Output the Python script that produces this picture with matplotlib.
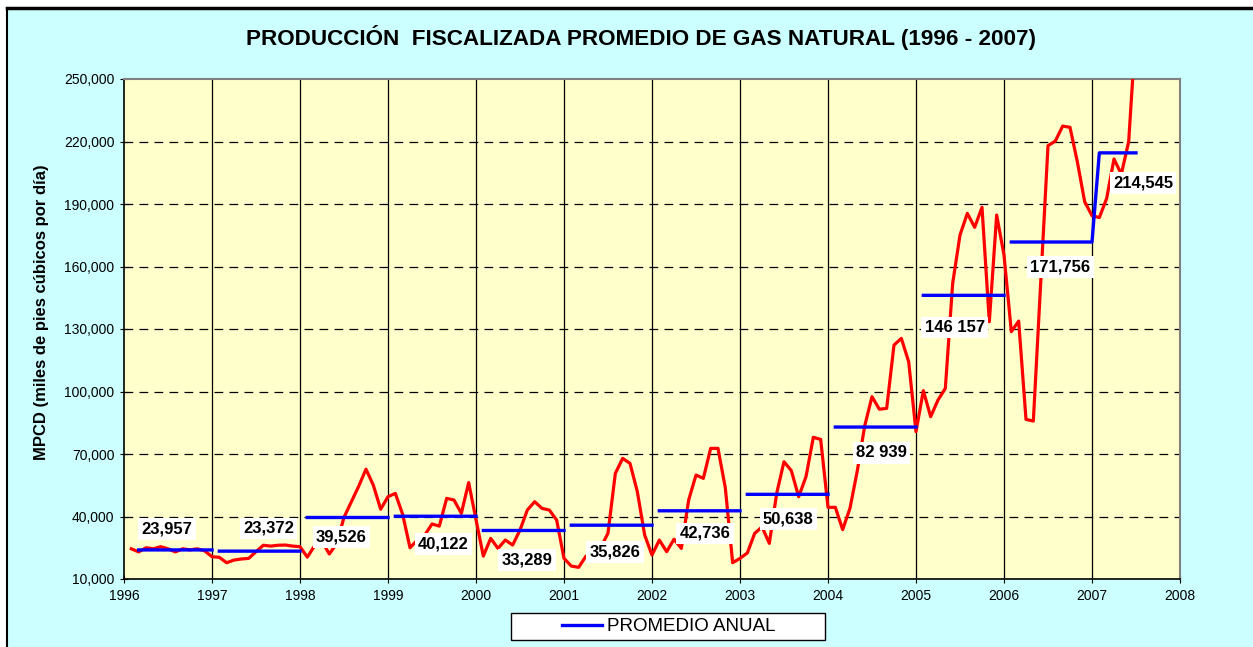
import numpy as np
import matplotlib.pyplot as plt
import matplotlib.ticker as mtick
from matplotlib.patches import Rectangle
from matplotlib.lines import Line2D

plt.rcParams['font.family'] = ['Liberation Sans', 'DejaVu Sans']

# monthly production (MPCD)
years = list(range(1996, 2008))
prod_1996 = [24500, 23000, 25000, 24500, 25500, 24500, 23000, 24500, 24000, 24500, 23500, 20700]
prod_1997 = [20400, 17800, 19100, 19600, 19900, 23100, 26200, 25800, 26200, 26300, 25800, 25500]
prod_1998 = [20500, 26000, 28000, 22000, 27000, 39600, 47100, 54500, 62700, 55000, 43500, 49500]
prod_1999 = [51100, 41000, 25000, 28700, 31000, 36400, 35400, 48700, 47900, 41500, 56300, 38500]
prod_2000 = [21000, 29500, 24700, 28700, 26300, 33500, 43100, 47100, 43900, 43100, 38300, 19900]
prod_2001 = [16200, 15600, 21000, 22000, 25000, 32000, 60700, 67900, 65500, 51900, 31100, 21500]
prod_2002 = [28700, 23100, 29100, 24700, 47900, 59900, 58300, 72700, 72700, 53700, 17800, 19900]
prod_2003 = [22500, 31900, 35000, 27100, 51100, 66300, 62000, 49500, 59100, 78000, 77000, 44400]
prod_2004 = [44400, 33700, 44000, 62000, 83400, 97500, 91500, 91900, 122300, 125500, 114300, 80700]
prod_2005 = [100400, 87900, 95900, 101500, 151900, 175100, 185500, 178800, 188400, 133500, 184700, 165500]
prod_2006 = [128700, 133800, 86600, 85800, 152000, 218000, 220200, 227400, 226800, 210300, 191100, 184400]
prod_2007 = [183500, 192700, 211600, 204300, 219900, 275000]

promedio_anual = [23957, 23372, 39526, 40122, 33289, 35826, 42736, 50638, 82939, 146157, 171756, 214545]
etiquetas = ["23,957", "23,372", "39,526", "40,122", "33,289", "35,826", "42,736", "50,638",
             "82 939", "146 157", "171,756", "214,545"]

# label positions (x in years, y in MPCD)
etq_x = [1996.49, 1997.64, 1998.47, 1999.63, 2000.58, 2001.58, 2002.60, 2003.55, 2004.61, 2005.44, 2006.64, 2007.58]
etq_y = [34000, 34300, 30200, 26700, 19100, 23100, 31900, 38700, 70600, 130800, 159900, 200000]

prod = [prod_1996, prod_1997, prod_1998, prod_1999, prod_2000, prod_2001,
        prod_2002, prod_2003, prod_2004, prod_2005, prod_2006, prod_2007]

x_mes, y_mes = [], []
bx, by = [], []
for i, yr in enumerate(years):
    xs = [yr + (m + 1) / 12 for m in range(len(prod[i]))]
    x_mes += xs
    y_mes += prod[i]
    start = 1 if yr == 1996 else 0
    if bx and yr != 2007:
        bx.append(np.nan)
        by.append(np.nan)
    bx += xs[start:]
    by += [promedio_anual[i]] * len(xs[start:])

W, H = 1253, 647
fig = plt.figure(figsize=(W / 100, H / 100), dpi=100)
fig.patch.set_facecolor('white')

# chart area background + frame
fig.add_artist(Rectangle((7 / W, 0), 1, 1 - 8 / H, transform=fig.transFigure,
                         facecolor='#CCFFFF', edgecolor='none', zorder=-10))
fig.add_artist(Line2D([7 / W, 7 / W], [0, 1 - 8 / H], color='black', lw=1.5, transform=fig.transFigure))
fig.add_artist(Line2D([7 / W, 1], [1 - 8 / H, 1 - 8 / H], color='black', lw=2.5, transform=fig.transFigure))

ax = fig.add_axes([124 / W, 1 - 579 / H, (1180 - 124) / W, (579 - 79) / H])
ax.set_facecolor('#FFFFCC')

ax.plot(x_mes, y_mes, color='#FF0000', lw=2.3, zorder=3)
ax.plot(bx, by, color='#0000FF', lw=2.4, zorder=4, label='PROMEDIO ANUAL')

for t, xx, yy in zip(etiquetas, etq_x, etq_y):
    ax.text(xx, yy, t, ha='center', va='center', fontsize=12, fontweight='bold', zorder=6,
            bbox=dict(boxstyle='square,pad=0.2', facecolor='white', edgecolor='none'))

ax.set_xlim(1996, 2008)
ax.set_ylim(10000, 250000)
ax.set_xticks(range(1996, 2009))
ax.set_yticks(range(10000, 250001, 30000))
ax.yaxis.set_major_formatter(mtick.StrMethodFormatter('{x:,.0f}'))
ax.tick_params(direction='inout', length=6, labelsize=10, pad=4)

for yr in range(1997, 2008):
    ax.axvline(yr, color='black', lw=0.9, zorder=1)
for v in range(40000, 250000, 30000):
    ax.axhline(v, color='black', lw=0.9, ls=(0, (7, 5)), zorder=1)

for s in ['top', 'right']:
    ax.spines[s].set_color('#808080')
    ax.spines[s].set_linewidth(1.5)
for s in ['left', 'bottom']:
    ax.spines[s].set_color('black')
    ax.spines[s].set_linewidth(1.2)

fig.text(641 / W, 1 - 37 / H, 'PRODUCCIÓN  FISCALIZADA PROMEDIO DE GAS NATURAL (1996 - 2007)',
         ha='center', va='center', fontsize=16.2, fontweight='bold')
fig.text(42 / W, 1 - 312 / H, 'MPCD (miles de pies cúbicos por día)', rotation=90,
         ha='center', va='center', fontsize=12, fontweight='bold')

# legend box
fig.add_artist(Rectangle((511 / W, 1 - 640 / H), (825 - 511) / W, 27 / H, transform=fig.transFigure,
                         facecolor='white', edgecolor='black', lw=1.0, zorder=5))
leg = fig.legend(loc='center', bbox_to_anchor=(669 / W, 1 - 626.5 / H), frameon=False,
                 fontsize=13.5, handlelength=2.1, handletextpad=0.3)
leg.set_zorder(6)

fig.savefig('out.png', dpi=100, facecolor=fig.get_facecolor())
